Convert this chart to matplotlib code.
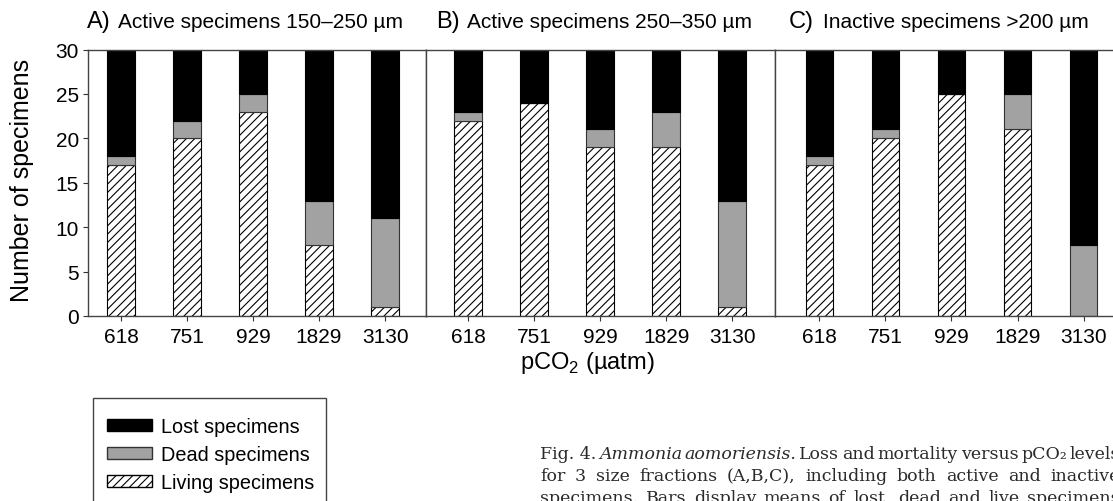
import matplotlib
matplotlib.use("Agg")
import matplotlib.pyplot as plt
from matplotlib.patches import Patch, Rectangle
import numpy as np

plt.rcParams['font.family'] = ['Liberation Sans', 'DejaVu Sans']
plt.rcParams['mathtext.fontset'] = 'custom'
plt.rcParams['mathtext.rm'] = 'Liberation Sans'
plt.rcParams['hatch.linewidth'] = 0.8

W, H = 1113, 502

pco2 = ['618', '751', '929', '1829', '3130']
panel_letters = ['A)', 'B)', 'C)']
panel_titles = ['Active specimens 150–250 µm', 'Active specimens 250–350 µm',
                'Inactive specimens >200 µm']

living = [[17, 20, 23, 8, 1], [22, 24, 19, 19, 1], [17, 20, 25, 21, 0]]
dead = [[1, 2, 2, 5, 10], [1, 0, 2, 4, 12], [1, 1, 0, 4, 8]]
lost = [[12, 8, 5, 17, 19], [7, 6, 9, 7, 17], [12, 9, 5, 5, 22]]

caption = [
    [("Fig. 4.", 'normal'), ("Ammonia", 'italic'), ("aomoriensis.", 'italic'), ("Loss", 'normal'),
     ("and", 'normal'), ("mortality", 'normal'), ("versus", 'normal'), ("pCO₂", 'normal'),
     ("levels", 'normal')],
    [(w, 'normal') for w in "for 3 size fractions (A,B,C), including both active and inactive".split()],
    [(w, 'normal') for w in "specimens. Bars display means of lost, dead and live specimens".split()],
]

fig = plt.figure(figsize=(W / 100, H / 100), dpi=100)

# panel frames in pixels: left, width, xlim
panels = [(88, 338, (-0.5, 4.62)), (426, 349, (-0.64, 4.65)), (774.5, 352, (-0.68, 4.65))]
title_x = [(87, 118), (436, 467), (789, 823)]
top, bottom = 50.5, 317

for i, (left, width, xl) in enumerate(panels):
    ax = fig.add_axes([left / W, (H - bottom) / H, width / W, (bottom - top) / H])
    x = np.arange(len(pco2))
    liv = np.array(living[i])
    dd = np.array(dead[i])
    ax.bar(x, liv, width=0.42, color='white', edgecolor='black', hatch='////', lw=0.8)
    ax.bar(x, dd, bottom=liv, width=0.42, color='#a2a2a2', edgecolor='#333333', lw=0.8)
    ax.bar(x, lost[i], bottom=liv + dd, width=0.42, color='black', edgecolor='black', lw=0.8)
    ax.set_xlim(*xl)
    ax.set_ylim(0, 30)
    ax.set_xticks(x)
    ax.set_xticklabels(pco2)
    ax.tick_params(axis='x', length=3.6, width=0.8, labelsize=15, pad=4, color='#333333')
    if i == 0:
        ax.set_yticks(range(0, 31, 5))
        ax.tick_params(axis='y', length=3.6, width=0.8, labelsize=15, pad=3, color='#333333')
    else:
        ax.tick_params(axis='y', left=False, labelleft=False)
    for s in ax.spines.values():
        s.set_color('#444444')
        s.set_linewidth(1.0)
    fig.text(title_x[i][0] / W, (H - 28) / H, panel_letters[i], fontsize=17, va='baseline')
    fig.text(title_x[i][1] / W, (H - 28) / H, panel_titles[i], fontsize=15, va='baseline')

fig.text(22 / W, (H - 180) / H, 'Number of specimens', fontsize=18, rotation=90,
         ha='center', va='center')
fig.text(587 / W, (H - 369) / H, 'pCO$_2$ (µatm)', fontsize=17, ha='center', va='baseline')

# legend
handles = [Patch(facecolor='black', edgecolor='black', label='Lost specimens'),
           Patch(facecolor='#a2a2a2', edgecolor='#333333', label='Dead specimens'),
           Patch(facecolor='white', edgecolor='black', hatch='////', label='Living specimens')]
fig.legend(handles=handles, loc='upper left', bbox_to_anchor=(107 / W, (H - 418) / H),
           frameon=False, fontsize=14.3, handlelength=2.25, handleheight=0.6,
           handletextpad=0.45, labelspacing=0.45, borderpad=0, borderaxespad=0)
fig.patches.append(Rectangle((93 / W, -0.1), (326 - 93) / W, (H - 399) / H + 0.1,
                             transform=fig.transFigure, fill=False, edgecolor='#444444', lw=1))

# justified caption
fig.canvas.draw()
r = fig.canvas.get_renderer()
x0, x1 = 540, 1120
for k, words in enumerate(caption):
    y = (H - 459 - 22 * k) / H
    texts = [fig.text(0, y, w, fontsize=12.5, family='DejaVu Serif', style=st,
                      color='#2a2a2a', va='baseline') for w, st in words]
    widths = [t.get_window_extent(r).width for t in texts]
    gap = (x1 - x0 - sum(widths)) / (len(texts) - 1)
    x = x0
    for t, w in zip(texts, widths):
        t.set_x(x / W)
        x += w + gap

fig.savefig('out.png', dpi=100)
